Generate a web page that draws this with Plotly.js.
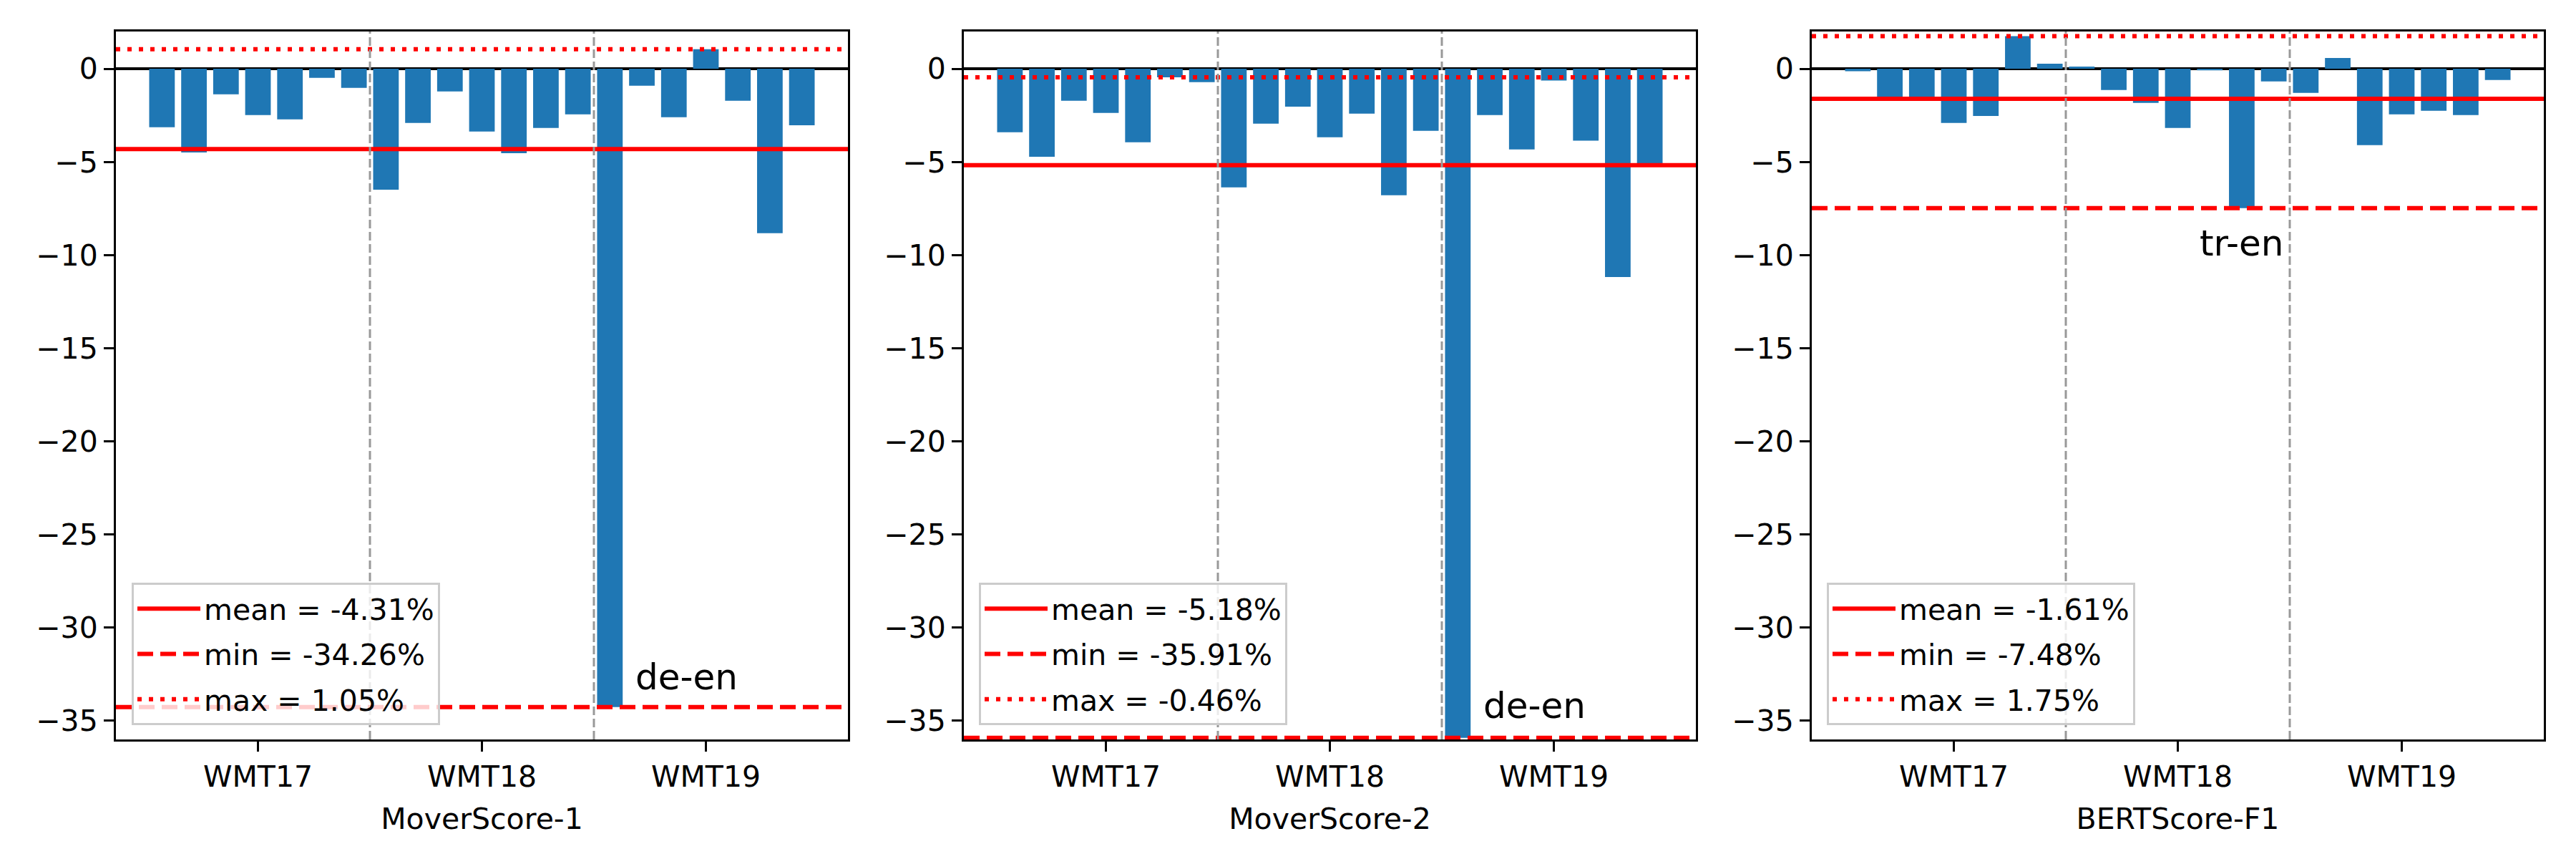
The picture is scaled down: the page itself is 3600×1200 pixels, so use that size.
<!DOCTYPE html>
<html>
<head>
<meta charset="utf-8">
<script src="https://cdn.plot.ly/plotly-3.0.1.min.js"></script>
<style>
  html, body { margin: 0; padding: 0; background: #fff; }
  #chart { width: 3600px; height: 1200px; }
</style>
</head>
<body>
<div id="chart"></div>
<script>
// ---- data ----
const groups = ['WMT17', 'WMT18', 'WMT19'];
const groupSizes = [7, 7, 7];
const metrics = ['MoverScore-1', 'MoverScore-2', 'BERTScore-F1'];

const moverScore1 = [-3.14, -4.49, -1.37, -2.49, -2.72, -0.49, -1.03,
                     -6.49, -2.91, -1.22, -3.37, -4.53, -3.18, -2.45,
                     -34.26, -0.91, -2.60, 1.05, -1.72, -8.83, -3.03];
const moverScore2 = [-3.41, -4.72, -1.72, -2.37, -3.95, -0.46, -0.72,
                     -6.37, -2.95, -2.03, -3.68, -2.41, -6.79, -3.33,
                     -35.91, -2.49, -4.33, -0.63, -3.86, -11.18, -5.07];
const bertScoreF1 = [-0.13, -1.55, -1.55, -2.91, -2.53, 1.75, 0.27,
                     0.12, -1.14, -1.83, -3.18, -0.08, -7.48, -0.68,
                     -1.29, 0.58, -4.10, -2.45, -2.26, -2.49, -0.60];

const meanVals = [-4.31, -5.18, -1.61];
const minVals = [-34.26, -35.91, -7.48];
const maxVals = [1.05, -0.46, 1.75];

const outlierLabels = ['de-en', 'de-en', 'tr-en'];
const outlierIndex = [14, 14, 12];

// ---- layout helpers ----
const FONT = 'DejaVu Sans, Arial, sans-serif';
const series = [moverScore1, moverScore2, bertScoreF1];
const domainsX = [[162 / 3600, 1185 / 3600], [1347 / 3600, 2370 / 3600], [2532 / 3600, 3555 / 3600]];
const domainY = [1 - 1033 / 1200, 1 - 44 / 1200];
const legendX = [184 / 3600, 1368 / 3600, 2553 / 3600];

const traces = [];
const layout = {
    width: 3600,
    height: 1200,
    margin: { l: 0, r: 0, t: 0, b: 0 },
    paper_bgcolor: '#fff',
    plot_bgcolor: '#fff',
    font: { family: FONT, size: 41, color: '#000' },
    showlegend: true,
    shapes: [],
    annotations: []
};

series.forEach((vals, p) => {
    const n = vals.length;
    const sfx = p === 0 ? '' : String(p + 1);
    const xa = 'x' + sfx, ya = 'y' + sfx;
    const lg = 'legend' + sfx;
    const xs = vals.map((v, i) => i);

    // matplotlib-like auto margins around the bars
    const lo = -0.4, hi = n - 1 + 0.4, pad = 0.05 * (hi - lo);
    const xr = [lo - pad, hi + pad];

    // group centre ticks
    const tickvals = [];
    let start = 0;
    groupSizes.forEach(s => { tickvals.push(start + (s - 1) / 2); start += s; });

    traces.push({
        type: 'bar', x: xs, y: vals, width: 0.8,
        marker: { color: '#1f77b4', line: { width: 0 } },
        xaxis: xa, yaxis: ya, showlegend: false, hoverinfo: 'skip'
    });

    const lines = [
        { v: meanVals[p], name: `mean = ${meanVals[p].toFixed(2)}%`, dash: 'solid' },
        { v: minVals[p], name: `min = ${minVals[p].toFixed(2)}%`, dash: '22px,10px' },
        { v: maxVals[p], name: `max = ${maxVals[p].toFixed(2)}%`, dash: '6px,10px' }
    ];
    lines.forEach((l, k) => {
        traces.push({
            type: 'scatter', mode: 'lines', x: xr, y: [l.v, l.v],
            line: { color: '#ff0000', width: 6, dash: l.dash },
            name: l.name, legend: lg, legendgroup: 'g' + p + k,
            xaxis: xa, yaxis: ya, hoverinfo: 'skip'
        });
    });

    layout['xaxis' + sfx] = {
        domain: domainsX[p], anchor: ya, range: xr,
        tickmode: 'array', tickvals: tickvals, ticktext: groups,
        ticks: 'outside', ticklen: 14, tickwidth: 3, tickcolor: '#000',
        showline: true, linecolor: '#000', linewidth: 3, mirror: true,
        showgrid: false, zeroline: false,
        tickfont: { family: FONT, size: 41, color: '#000' },
        title: { text: metrics[p], font: { family: FONT, size: 41, color: '#000' }, standoff: 22 }
    };
    layout['yaxis' + sfx] = {
        domain: domainY, anchor: xa, range: [-36, 2],
        tickmode: 'linear', tick0: 0, dtick: 5,
        ticks: 'outside', ticklen: 14, tickwidth: 3, tickcolor: '#000',
        showline: true, linecolor: '#000', linewidth: 3, mirror: true,
        showgrid: false, zeroline: true, zerolinecolor: '#000', zerolinewidth: 4,
        tickfont: { family: FONT, size: 41, color: '#000' }
    };
    layout[lg] = {
        x: legendX[p], xanchor: 'left', y: 1 - 1013 / 1200, yanchor: 'bottom',
        bgcolor: 'rgba(255,255,255,0.8)', bordercolor: '#cccccc', borderwidth: 3,
        font: { family: FONT, size: 41, color: '#000' },
        itemwidth: 88,
        tracegroupgap: 7
    };

    // group separators
    let cum = 0;
    groupSizes.slice(0, -1).forEach(s => {
        cum += s;
        layout.shapes.push({
            type: 'line', xref: xa, yref: ya + ' domain', x0: cum - 0.5, x1: cum - 0.5, y0: 0, y1: 1,
            line: { color: '#999999', width: 3, dash: '12px,5px' }, layer: 'above'
        });
    });

    // outlier label
    const oi = outlierIndex[p];
    const below = p === 2;
    layout.annotations.push({
        xref: xa, yref: ya,
        x: below ? oi : oi + 0.75,
        y: below ? vals[oi] - 1.9 : minVals[p] + (p === 0 ? 1.6 : 1.7),
        text: outlierLabels[p], showarrow: false,
        xanchor: below ? 'center' : 'left', yanchor: 'middle',
        font: { family: FONT, size: 50, color: '#000' }
    });
});

Plotly.newPlot('chart', traces, layout, { staticPlot: true });
</script>
</body>
</html>
